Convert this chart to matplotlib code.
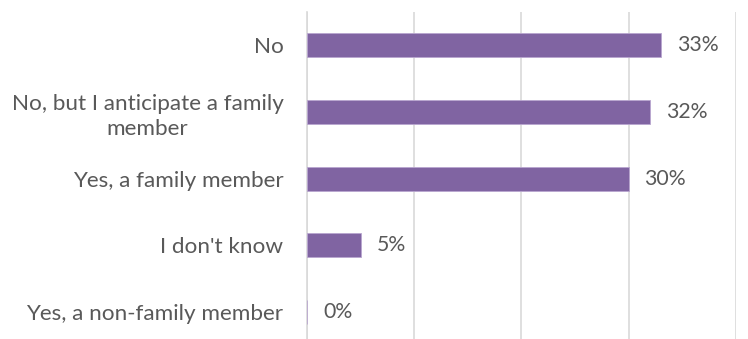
import matplotlib
matplotlib.use('Agg')
import matplotlib.pyplot as plt
import numpy as np

plt.rcParams['font.family'] = ['Lato', 'DejaVu Sans']

categories = ['No', 'No, but I anticipate a family\nmember', 'Yes, a family member',
              "I don't know", 'Yes, a non-family member']
values = [33, 32, 30, 5, 0]
ticks = [0, 10, 20, 30, 40]

bar_color = '#8064A2'
text_color = '#595959'
grid_color = '#D9D9D9'

fig = plt.figure(figsize=(7.48, 3.39), dpi=100)
# axes run slightly past the bottom edge, as in the exported chart
ax = fig.add_axes([307 / 748, 1 - 345.5 / 339, (735.7 - 307) / 748, (345.5 - 12) / 339])

y = np.arange(len(categories))
ax.barh(y, values, height=0.36, color=bar_color, edgecolor='#B9A6CF', linewidth=0.6, zorder=3)

for yi, v in zip(y, values):
    ax.annotate(f'{v}%', xy=(v, yi), xytext=(16, 0), textcoords='offset pixels',
                va='center', ha='left', fontsize=15.3, color=text_color)

ax.set_xlim(0, 40)
ax.set_ylim(len(categories) - 0.5, -0.5)
ax.set_xticks(ticks)
ax.set_xticklabels([])
ax.tick_params(axis='x', length=0)
ax.grid(axis='x', color=grid_color, linewidth=1.2, zorder=0)

ax.set_yticks(y)
ax.set_yticklabels(categories, fontsize=16.2, color=text_color, ha='right',
                   multialignment='center', linespacing=1.32)
ax.tick_params(axis='y', length=0, pad=17)

for side in ['top', 'right', 'bottom']:
    ax.spines[side].set_visible(False)
ax.spines['left'].set_color(grid_color)
ax.spines['left'].set_linewidth(1.2)

fig.savefig('out.png', dpi=100)
